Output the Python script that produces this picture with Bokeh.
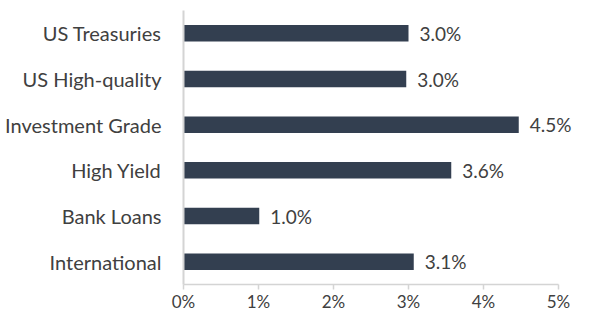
from bokeh.plotting import figure
from bokeh.models import ColumnDataSource, Range1d, FactorRange, FixedTicker, LabelSet
from bokeh.core.properties import value
from bokeh.embed import file_html
from bokeh.resources import INLINE

categories = ["US Treasuries", "US High-quality", "Investment Grade", "High Yield", "Bank Loans", "International"]
values = [3.00, 2.97, 4.47, 3.57, 1.01, 3.07]
value_labels = ["3.0%", "3.0%", "4.5%", "3.6%", "1.0%", "3.1%"]
x_ticks = [0, 1, 2, 3, 4, 5]
x_tick_labels = ["0%", "1%", "2%", "3%", "4%", "5%"]

BAR = "#333f50"
TXT = "#404040"
AX = "#d4d4d4"
FONT = "Lato"

src = ColumnDataSource(dict(cat=categories, val=values, lab=value_labels))

p = figure(width=576, height=314, output_backend="svg", toolbar_location=None,
           y_range=FactorRange(factors=list(reversed(categories))),
           x_range=Range1d(0, 5.24),
           min_border_left=183, min_border_right=0, min_border_top=10, min_border_bottom=24)
p.outline_line_color = None
p.xgrid.visible = False
p.ygrid.visible = False
p.background_fill_color = "white"

p.hbar(y="cat", right="val", left=0, height=0.36, source=src,
       fill_color=BAR, line_color=None)

labels = LabelSet(x="val", y="cat", text="lab", source=src, x_offset=11,
                  text_baseline="middle", text_align="left",
                  text_font=value(FONT), text_font_size=value("19px"), text_color=value(TXT))
p.add_layout(labels)

xa = p.xaxis[0]
xa.ticker = FixedTicker(ticks=x_ticks)
xa.major_label_overrides = {t: l for t, l in zip(x_ticks, x_tick_labels)}
xa.bounds = (0, 5)
xa.axis_line_color = AX
xa.axis_line_width = 1.5
xa.major_tick_line_color = AX
xa.major_tick_line_width = 1.5
xa.major_tick_out = 5
xa.major_tick_in = 0
xa.minor_tick_line_color = None
xa.major_label_text_font = FONT
xa.major_label_text_font_size = "17px"
xa.major_label_text_color = TXT
xa.major_label_standoff = 1

ya = p.yaxis[0]
ya.axis_line_color = AX
ya.axis_line_width = 2
ya.major_tick_line_color = None
ya.minor_tick_line_color = None
ya.major_label_text_font = FONT
ya.major_label_text_font_size = "20px"
ya.major_label_text_color = TXT
ya.major_label_standoff = 16

open("out.html", "w").write(file_html(p, INLINE))
